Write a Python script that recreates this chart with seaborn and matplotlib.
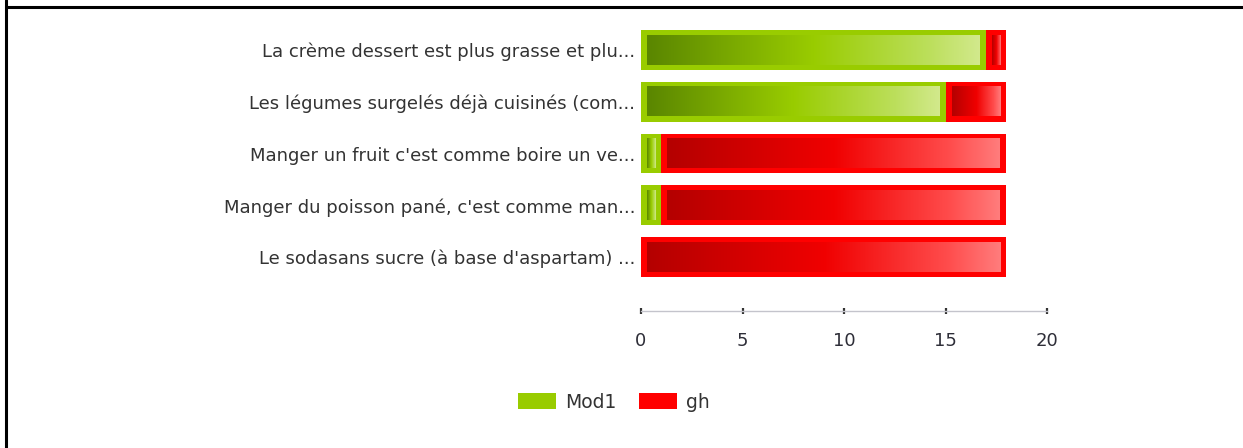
import numpy as np
import pandas as pd
import matplotlib
matplotlib.use("Agg")
import matplotlib.pyplot as plt
import seaborn as sns
from matplotlib.colors import LinearSegmentedColormap
from matplotlib.patches import Patch
from matplotlib.lines import Line2D

labels = [
    "La crème dessert est plus grasse et plu...",
    "Les légumes surgelés déjà cuisinés (com...",
    "Manger un fruit c'est comme boire un ve...",
    "Manger du poisson pané, c'est comme man...",
    "Le sodasans sucre (à base d'aspartam) ...",
]
mod1 = [17, 15, 1, 1, 0]
gh = [1, 3, 17, 17, 18]
series_names = ["Mod1", "gh"]
colors = {"Mod1": "#99cc00", "gh": "#ff0000"}

cmaps = {
    "Mod1": LinearSegmentedColormap.from_list(
        "g", [(0, "#5a8600"), (0.5, "#99cc00"), (0.85, "#bcdf5c"), (1, "#d2e98c")]),
    "gh": LinearSegmentedColormap.from_list(
        "r", [(0, "#b40000"), (0.5, "#f00000"), (0.85, "#ff4c4c"), (1, "#ff7c7c")]),
}

df = pd.DataFrame({"label": labels, "Mod1": mod1, "gh": gh})
df["total"] = df["Mod1"] + df["gh"]

sns.set_style("white")
plt.rcParams["font.family"] = ["DejaVu Sans"]

fig = plt.figure(figsize=(12.43, 4.48), dpi=100)
ax = fig.add_axes([641 / 1243, 1 - 311 / 448, 406 / 1243, 287 / 448])

bw = 0.77
sns.barplot(data=df, x="total", y="label", color=colors["gh"], width=bw,
            saturation=1, edgecolor="none", ax=ax)
sns.barplot(data=df, x="Mod1", y="label", color=colors["Mod1"], width=bw,
            saturation=1, edgecolor="none", ax=ax)

# gradient fill inside every segment
grad = np.linspace(0, 1, 256).reshape(1, -1)
dx, dy = 0.3, 0.1
for i, row in df.iterrows():
    segs = [("Mod1", 0, row["Mod1"]), ("gh", row["Mod1"], row["total"])]
    for name, x0, x1 in segs:
        if x1 - x0 <= 0:
            continue
        ax.imshow(grad, extent=[x0 + dx, x1 - dx, i + bw / 2 - dy, i - bw / 2 + dy],
                  aspect="auto", cmap=cmaps[name], zorder=3, interpolation="bilinear")

ax.set_xlim(0, 20)
ax.set_ylim(5.04, -0.50)
ax.set_xticks([0, 5, 10, 15, 20])
ax.set_xlabel("")
ax.set_ylabel("")
for s in ["top", "right", "left"]:
    ax.spines[s].set_visible(False)
ax.spines["bottom"].set_color("#c4c4cc")
ax.spines["bottom"].set_linewidth(1)
ax.tick_params(axis="x", bottom=True, direction="inout", length=4, width=1.6,
               color="#333333", pad=13, labelsize=13, labelcolor="#2e2e38")
ax.tick_params(axis="y", left=False, length=0, pad=4, labelsize=13, labelcolor="#333333")

handles = [Patch(facecolor=colors[n], edgecolor="none", label=n) for n in series_names]
fig.legend(handles=handles, loc="center", bbox_to_anchor=(614 / 1243, 1 - 402 / 448),
           ncol=2, frameon=False, fontsize=13.5, handlelength=2.0, handleheight=0.9,
           columnspacing=1.2, handletextpad=0.5, labelcolor="#333333")

# table cell borders
fig.add_artist(Line2D([6 / 1243, 1], [1 - 7 / 448, 1 - 7 / 448], transform=fig.transFigure,
                      color="black", linewidth=2.2))
fig.add_artist(Line2D([6 / 1243, 6 / 1243], [0, 1], transform=fig.transFigure,
                      color="black", linewidth=2.2))

fig.savefig("out.png", dpi=100)
